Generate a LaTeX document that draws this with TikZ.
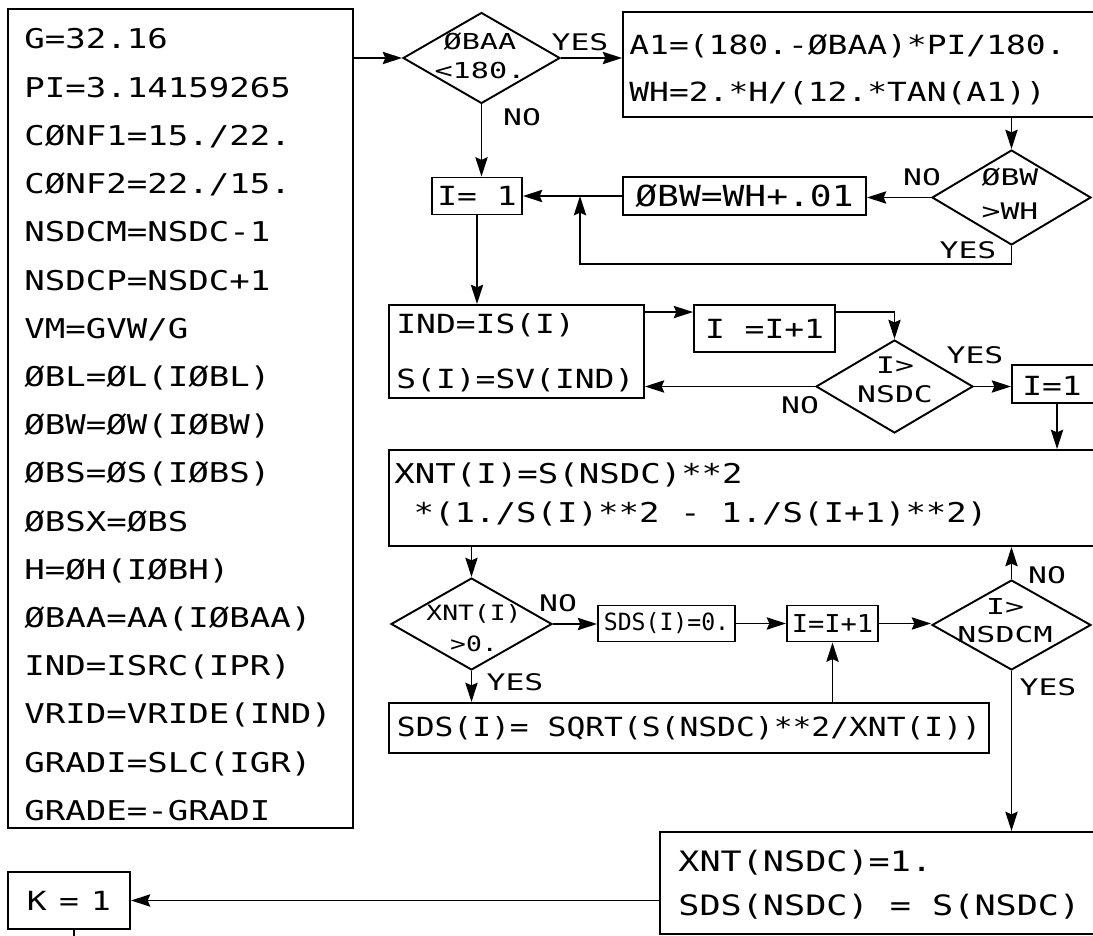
\documentclass[tikz,border=0pt]{standalone}
\usepackage{fontspec}
\usepackage{graphicx}
\usetikzlibrary{shapes.geometric,arrows.meta,calc}
\newfontfamily\leroy[FakeStretch=1.25]{DejaVu Sans Mono}
\newcommand{\hs}[2]{\scalebox{#1}[1]{#2}}
\newcommand{\lft}[1]{\begin{tabular}{@{}l@{}}#1\end{tabular}}
\newcommand{\ctr}[1]{\begin{tabular}{@{}c@{}}#1\end{tabular}}
\tikzset{
  box/.style={draw, line width=1.1pt, rectangle, inner sep=0pt},
  dia/.style={draw, line width=1.1pt, diamond, inner sep=0pt},
  txt/.style={inner sep=0pt},
  lbl/.style={inner sep=0pt, font=\leroy\fontsize{13}{15}\selectfont},
  arr/.style={line width=1pt, -{Stealth[length=11pt,width=7pt,inset=1.5pt]}},
  ln/.style={line width=1pt},
}
\begin{document}
\begin{tikzpicture}[x=0.02cm, y=-0.02cm, font=\leroy]
\useasboundingbox (0,0) rectangle (1093,936);
\clip (0,0) rectangle (1093,936);

% ---------- initialisation box
\node[box, minimum width=6.9cm, minimum height=16.38cm] (init) at (180.5,418.5) {};
\node[txt, anchor=west, font=\leroy\fontsize{15.5}{27.44}\selectfont] (initT) at (24,425)
  {\lft{G=32.16\\PI=3.14159265\\CØNF1=15./22.\\CØNF2=22./15.\\NSDCM=NSDC-1\\NSDCP=NSDC+1\\VM=GVW/G\\ØBL=ØL(IØBL)\\ØBW=ØW(IØBW)\\ØBS=ØS(IØBS)\\ØBSX=ØBS\\H=ØH(IØBH)\\ØBAA=AA(IØBAA)\\IND=ISRC(IPR)\\VRID=VRIDE(IND)\\GRADI=SLC(IGR)\\GRADE=-GRADI}};

% ---------- decision OBAA < 180
\node[dia, minimum width=3.14cm, minimum height=1.82cm] (d1) at (481.5,58) {};
\node[txt, font=\leroy\fontsize{12.5}{17}\selectfont] (d1T) at (480,58) {\hs{1.1}{\ctr{ØBAA\\<180.}}};

% ---------- A1 / WH box
\node[box, minimum width=9.74cm, minimum height=2.1cm] (a1) at (866.5,64.5) {};
\node[txt, anchor=west, font=\leroy\fontsize{15}{26.6}\selectfont] (a1T) at (629,68.5)
  {\lft{A1=(180.-ØBAA)*PI/180.\\WH=2.*H/(12.*TAN(A1))}};

% ---------- I=1 (first)
\node[box, minimum width=1.8cm, minimum height=0.74cm, font=\leroy\fontsize{15}{18}\selectfont] (i1) at (477,196) {I= 1};

% ---------- OBW = WH + .01
\node[box, minimum width=4.86cm, minimum height=0.76cm, font=\leroy\fontsize{16.5}{19}\selectfont] (bw) at (744.5,196) {ØBW=WH+.01};

% ---------- decision OBW > WH
\node[dia, minimum width=3.18cm, minimum height=1.9cm] (d2) at (1011.5,197.5) {};
\node[txt, font=\leroy\fontsize{13}{19.3}\selectfont] (d2T) at (1010,196) {\hs{1.1}{\ctr{ØBW\\>WH}}};

% ---------- IND box
\node[box, minimum width=5.1cm, minimum height=1.86cm] (ind) at (516.5,351.5) {};
\node[txt, anchor=west, font=\leroy\fontsize{15}{31.7}\selectfont] (indT) at (396,350)
  {\lft{IND=IS(I)\\S(I)=SV(IND)}};

% ---------- I=I+1 (first)
\node[box, minimum width=2.82cm, minimum height=0.94cm, font=\leroy\fontsize{15}{18}\selectfont] (inc1) at (764.5,328.5) {I =I+1};

% ---------- decision I > NSDC
\node[dia, minimum width=3.14cm, minimum height=1.86cm] (d3) at (894.5,386.5) {};
\node[txt, font=\leroy\fontsize{13}{16.4}\selectfont] (d3T) at (895,382) {\hs{1.1}{\ctr{I>\\NSDC}}};

% ---------- I=1 (second)
\node[box, minimum width=1.96cm, minimum height=0.76cm] (i2) at (1061,384) {};
\node[txt, font=\leroy\fontsize{15}{18}\selectfont] (i2T) at (1052,386) {I=1};

% ---------- XNT(I) box
\node[box, minimum width=14.42cm, minimum height=1.92cm] (xnt) at (749.5,498) {};
\node[txt, anchor=west, font=\leroy\fontsize{15.5}{22.7}\selectfont] (xntT) at (394,495)
  {\lft{XNT(I)=S(NSDC)**2\\\hspace*{11pt}*(1./S(I)**2 - 1./S(I+1)**2)}};

% ---------- decision XNT(I) > 0.
\node[dia, minimum width=3.22cm, minimum height=1.84cm] (d4) at (471.5,624) {};
\node[txt, font=\leroy\fontsize{12}{17.6}\selectfont] (d4T) at (474,630) {\hs{1.0}{\ctr{XNT(I)\\>0.}}};

% ---------- SDS(I)=0.
\node[box, minimum width=2.74cm, minimum height=0.72cm, font=\leroy\fontsize{13.5}{18}\selectfont] (sds0) at (666.5,623.5) {\hs{0.78}{SDS(I)=0.}};

% ---------- I=I+1 (second)
\node[box, minimum width=1.82cm, minimum height=0.72cm, font=\leroy\fontsize{14}{18}\selectfont] (inc2) at (832.5,623.5) {\hs{0.88}{I=I+1}};

% ---------- decision I > NSDCM
\node[dia, minimum width=3.18cm, minimum height=1.8cm] (d5) at (1011.5,625) {};
\node[txt, font=\leroy\fontsize{12.5}{15.9}\selectfont] (d5T) at (1005,623) {\hs{1.15}{\ctr{I>\\NSDCM}}};

% ---------- SQRT box
\node[box, minimum width=12cm, minimum height=1cm, font=\leroy\fontsize{15}{18}\selectfont] (sq) at (689,728) {\hs{0.95}{SDS(I)= SQRT(S(NSDC)**2/XNT(I))}};

% ---------- XNT(NSDC) box
\node[box, minimum width=9cm, minimum height=2.04cm] (xn) at (885,883) {};
\node[txt, anchor=west, font=\leroy\fontsize{16}{24.9}\selectfont] (xnT) at (678,885)
  {\lft{XNT(NSDC)=1.\\SDS(NSDC) = S(NSDC)}};

% ---------- K=1
\node[box, minimum width=2.44cm, minimum height=1.14cm, font=\leroy\fontsize{15}{18}\selectfont] (k1) at (69,900.5) {K\hspace{7pt}=\hspace{7pt}1};

% ---------- labels
\node[lbl] (yes1) at (580,42) {\hs{1.1}{YES}};
\node[lbl] (no1) at (522,117) {\hs{1.1}{NO}};
\node[lbl] (no2) at (922,177) {\hs{1.1}{NO}};
\node[lbl] (yes2) at (968,250) {\hs{1.1}{YES}};
\node[lbl] (yes3) at (975,355) {\hs{1.1}{YES}};
\node[lbl] (no3) at (800,405) {\hs{1.1}{NO}};
\node[lbl] (no4) at (558,603) {\hs{1.1}{NO}};
\node[lbl] (yes4) at (515,682) {\hs{1.1}{YES}};
\node[lbl] (no5) at (1047,575) {\hs{1.1}{NO}};
\node[lbl] (yes5) at (1048,687) {\hs{1.1}{YES}};

% ---------- coordinates for bends
\coordinate (loopc) at (580,264);
\coordinate (join1) at (580,196);
\coordinate (indR) at ($(ind.north east)+(0,8)$);
\coordinate (inc1R) at ($(inc1.north east)+(0,8)$);
\coordinate (i2d) at ($(i2.south west)+(46,0)$);
\coordinate (kout) at (74,945);

% ---------- connectors
\draw[arr] (init.east |- d1.west) -- (d1.west);
\draw[arr] (d1.east) -- (d1.east -| a1.west);
\draw[arr] (d1.south) -- (d1.south |- i1.north);
\draw[arr] (d2.north |- a1.south) -- (d2.north);
\draw[arr] (d2.west) -- (d2.west -| bw.east);
\draw[arr] (bw.west) -- (bw.west -| i1.east);
\draw[arr] (d2.south) |- (loopc) -- (join1);
\draw[arr] (i1.south) -- (i1.south |- ind.north);
\draw[arr] (indR) -- (indR -| inc1.west);
\draw[arr] (inc1R) -| (d3.north);
\draw[arr] (d3.west) -- (d3.west -| ind.east);
\draw[arr] (d3.east) -- (d3.east -| i2.west);
\draw[arr] (i2d) -- (i2d |- xnt.north);
\draw[arr] (d4.north |- xnt.south) -- (d4.north);
\draw[arr] (d4.east) -- (d4.east -| sds0.west);
\draw[arr] (sds0.east) -- (inc2.west);
\draw[arr] (inc2.east) -- (inc2.east -| d5.west);
\draw[arr] (d5.north) -- (d5.north |- xnt.south);
\draw[arr] (d5.south) -- (d5.south |- xn.north);
\draw[arr] (d4.south) -- (d4.south |- sq.north);
\draw[arr] (inc2.south |- sq.north) -- (inc2.south);
\draw[arr] (xn.west |- k1.east) -- (k1.east);
\draw[ln] (k1.south -| kout) -- (kout);
\end{tikzpicture}
\end{document}
